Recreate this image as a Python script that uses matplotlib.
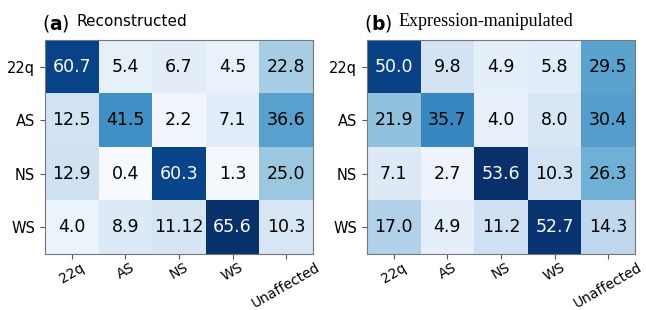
import numpy as np
import matplotlib
matplotlib.use('Agg')
import matplotlib.pyplot as plt

rows = ['22q', 'AS', 'NS', 'WS']
cols = ['22q', 'AS', 'NS', 'WS', 'Unaffected']

recon = [[60.7, 5.4, 6.7, 4.5, 22.8],
         [12.5, 41.5, 2.2, 7.1, 36.6],
         [12.9, 0.4, 60.3, 1.3, 25.0],
         [4.0, 8.9, 11.12, 65.6, 10.3]]

expr = [[50.0, 9.8, 4.9, 5.8, 29.5],
        [21.9, 35.7, 4.0, 8.0, 30.4],
        [7.1, 2.7, 53.6, 10.3, 26.3],
        [17.0, 4.9, 11.2, 52.7, 14.3]]

W, H = 646, 310
fig = plt.figure(figsize=(W / 100, H / 100), dpi=100)


def panel(x0, data, letter, title, tfont):
    m = np.array(data)
    ax = fig.add_axes([x0 / W, (H - 254) / H, 268 / W, 214 / H])
    ax.imshow(m, cmap='Blues', vmin=0, vmax=m.max(), aspect='auto')
    for i in range(m.shape[0]):
        for j in range(m.shape[1]):
            v = m[i, j]
            c = 'white' if v > 0.75 * m.max() else 'black'
            ax.text(j, i, str(data[i][j]), ha='center', va='center',
                    fontsize=12.5, color=c)
    ax.set_xticks(range(len(cols)))
    ax.set_xticklabels(cols, rotation=30, ha='center', fontsize=10)
    ax.set_yticks(range(len(rows)))
    ax.set_yticklabels(rows, fontsize=10.5)
    for s in ax.spines.values():
        s.set_color('#777777')
    ax.tick_params(color='#555555', length=3.5)
    ax.tick_params(axis='x', pad=1)
    # titles
    fig.text((x0 - 3) / W, (H - 23) / H, '(' + r'$\bf{' + letter + '}$' + ')',
             fontsize=13.5, va='center', ha='left')
    fig.text((x0 + 32) / W, (H - 22) / H, title, fontsize=tfont[1],
             family=tfont[0], va='center', ha='left')
    return ax


panel(45, recon, 'a', 'Reconstructed', ('DejaVu Sans', 11))
panel(367, expr, 'b', 'Expression-manipulated', ('Liberation Serif', 13))

fig.savefig('out.png', dpi=100)
